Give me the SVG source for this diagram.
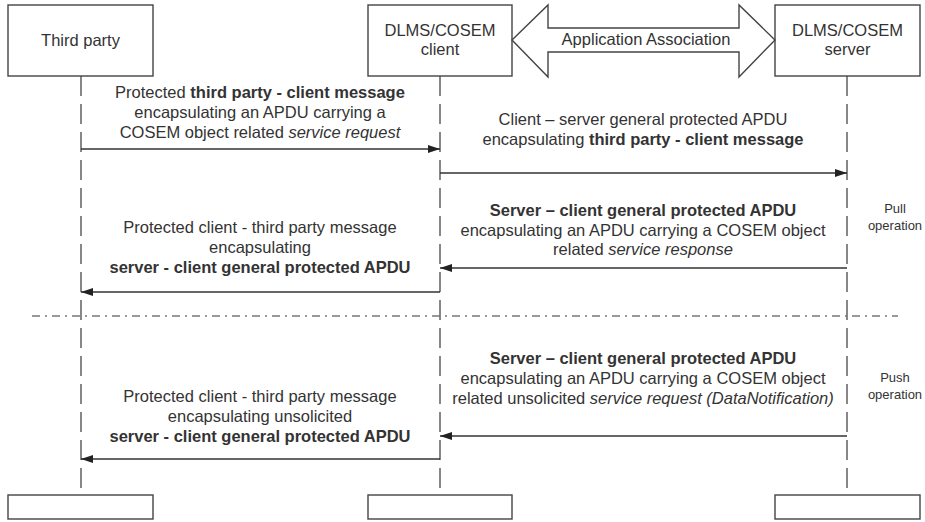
<svg xmlns="http://www.w3.org/2000/svg" width="925" height="522" viewBox="0 0 925 522">
  <defs>
    <style>
      text { font-family: "Liberation Sans", Arial, sans-serif; font-size: 16.5px; fill: #333; text-anchor: middle; }
      .b { font-weight: bold; }
      .i { font-style: italic; }
      .small { font-size: 13px; }
      .box { fill: #fff; stroke: #444; stroke-width: 1.4; }
      .life { stroke: #555; stroke-width: 1.4; stroke-dasharray: 20 8; fill: none; }
      .msg { stroke: #333; stroke-width: 1.4; fill: none; marker-end: url(#head); }
      .sep { stroke: #777; stroke-width: 1.6; stroke-dasharray: 8 5 2 5; fill: none; }
    </style>
    <marker id="head" viewBox="0 0 12 8" refX="12" refY="4" markerWidth="12" markerHeight="8" markerUnits="userSpaceOnUse" orient="auto">
      <path d="M0,0 L12,4 L0,8 Z" fill="#222"/>
    </marker>
  </defs>
  <rect width="925" height="522" fill="#fff"/>

  <!-- lifelines -->
  <g id="lifelines">
    <line class="life" x1="81" y1="76" x2="81" y2="495"/>
    <line class="life" x1="440" y1="76" x2="440" y2="495"/>
    <line class="life" x1="847" y1="76" x2="847" y2="495"/>
  </g>

  <!-- participants -->
  <g id="third-party">
    <rect class="box" x="8" y="5" width="145" height="71"/>
    <text x="80.5" y="46">Third party</text>
  </g>
  <g id="client">
    <rect class="box" x="368" y="5" width="144" height="71"/>
    <text x="440" y="36">DLMS/COSEM</text>
    <text x="440" y="55">client</text>
  </g>
  <g id="server">
    <rect class="box" x="775" y="5" width="145" height="71"/>
    <text x="847.5" y="36">DLMS/COSEM</text>
    <text x="847.5" y="55">server</text>
  </g>
  <g id="association">
    <polygon class="box" points="512,40 548,5 548,28 739,28 739,5 775,40 739,77 739,52 548,52 548,77"/>
    <text x="646" y="45">Application Association</text>
  </g>
  <g id="third-party-end"><rect class="box" x="8" y="495" width="145" height="24"/></g>
  <g id="client-end"><rect class="box" x="368" y="495" width="144" height="24"/></g>
  <g id="server-end"><rect class="box" x="775" y="495" width="145" height="24"/></g>

  <!-- messages -->
  <g id="connectors">
    <line class="msg" x1="81" y1="149" x2="440" y2="149"/>
    <line class="msg" x1="440" y1="173" x2="847" y2="173"/>
    <line class="msg" x1="847" y1="268" x2="440" y2="268"/>
    <line class="msg" x1="440" y1="292" x2="81" y2="292"/>
    <line class="sep" x1="32" y1="316" x2="898" y2="316"/>
    <line class="msg" x1="847" y1="436" x2="440" y2="436"/>
    <line class="msg" x1="440" y1="459" x2="81" y2="459"/>
  </g>

  <!-- message labels -->
  <g id="labels">
    <text x="260" y="98">Protected <tspan class="b">third party - client message</tspan></text>
    <text x="260" y="118">encapsulating an APDU carrying a</text>
    <text x="260" y="138">COSEM object related <tspan class="i">service request</tspan></text>

    <text x="643" y="125">Client – server general protected APDU</text>
    <text x="643" y="145">encapsulating <tspan class="b">third party - client message</tspan></text>

    <text x="643" y="216" class="b">Server – client general protected APDU</text>
    <text x="643" y="235.5">encapsulating an APDU carrying a COSEM object</text>
    <text x="643" y="255">related <tspan class="i">service response</tspan></text>

    <text x="260" y="233">Protected client - third party message</text>
    <text x="260" y="253">encapsulating</text>
    <text x="260" y="273" class="b">server - client general protected APDU</text>

    <text x="643" y="364" class="b">Server – client general protected APDU</text>
    <text x="643" y="384">encapsulating an APDU carrying a COSEM object</text>
    <text x="643" y="404">related unsolicited <tspan class="i">service request (DataNotification)</tspan></text>

    <text x="260" y="402">Protected client - third party message</text>
    <text x="260" y="422">encapsulating unsolicited</text>
    <text x="260" y="442" class="b">server - client general protected APDU</text>

    <text x="895" y="213" class="small">Pull</text>
    <text x="895" y="230" class="small">operation</text>
    <text x="895" y="382" class="small">Push</text>
    <text x="895" y="399" class="small">operation</text>
  </g>
</svg>
